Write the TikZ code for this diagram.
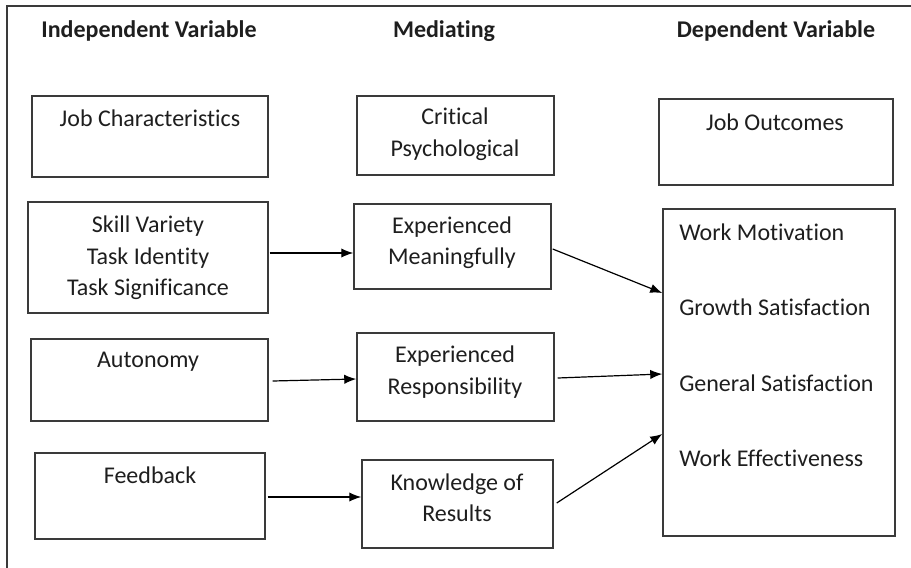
\documentclass[tikz,border=0pt]{standalone}
\usepackage{fontspec}
\setmainfont{Carlito}[Ligatures=NoCommon]
\usetikzlibrary{arrows.meta,fit}
\definecolor{ln}{HTML}{3A3A3A}
\definecolor{tx}{HTML}{1E1E1E}
\begin{document}
\begin{tikzpicture}[x=0.75pt,y=-0.75pt,
  box/.style={draw=ln,line width=1.1pt,inner sep=0pt},
  txt/.style={text=tx,font=\fontsize{18}{23.6}\selectfont,align=center,inner sep=0pt},
  ltxt/.style={text=tx,font=\fontsize{18}{23.6}\selectfont,anchor=west,inner sep=0pt},
  head/.style={text=tx,font=\fontsize{18}{22}\selectfont\bfseries,inner sep=0pt},
  arr/.style={draw=black,line width=0.9pt,-{Latex[length=9pt,width=7pt]}}]
\useasboundingbox (0,0) rectangle (911,568);
% outer frame (top and left only)
\draw[ln,line width=1.1pt] (911,6) -- (7,6) -- (7,568);
% headers
\node[head] (h1) at (149,31) {Independent Variable};
\node[head] (h2) at (444,31) {Mediating};
\node[head] (h3) at (776,31) {Dependent Variable};
% left column
\node[box,fit={(32,96) (268,177)}] (jc) {};
\node[txt] (jct) at (150,118) {Job Characteristics};
\node[box,fit={(28,202) (268,313)}] (sv) {};
\node[txt] (svt) at (148,258) {Skill Variety\\Task Identity\\Task Significance};
\node[box,fit={(31,339) (268,421)}] (au) {};
\node[txt] (aut) at (148,362) {Autonomy};
\node[box,fit={(35,453) (265,539)}] (fb) {};
\node[txt] (fbt) at (150,475) {Feedback};
% middle column
\node[box,fit={(357,96) (554,175)}] (cp) {};
\node[txt] (cpt) at (455,134) {Critical\\Psychological};
\node[box,fit={(354,204) (551,289)}] (em) {};
\node[txt] (emt) at (452,242.5) {Experienced\\Meaningfully};
\node[box,fit={(357,333) (554,421)}] (er) {};
\node[txt] (ert) at (455,372) {Experienced\\Responsibility};
\node[box,fit={(362,460) (553,548)}] (kr) {};
\node[txt] (krt) at (457,497.5) {Knowledge of\\Results};
% right column
\node[box,fit={(659,99) (893,185)}] (jo) {};
\node[txt] (jot) at (775,122) {Job Outcomes};
\node[box,fit={(663,209) (895,536)}] (out) {};
\node[ltxt] (o1) at (679,232) {Work Motivation};
\node[ltxt] (o2) at (679,307) {Growth Satisfaction};
\node[ltxt] (o3) at (679,383) {General Satisfaction};
\node[ltxt] (o4) at (679,458) {Work Effectiveness};
% arrows
\draw[arr] ([shift={(1,-4.5)}]sv.east) -- ([shift={(0,6.5)}]em.west);
\draw[arr] ([shift={(4,1)}]au.east) -- ([shift={(0,2)}]er.west);
\draw[arr] ([shift={(2,1)}]fb.east) -- ([shift={(0,-7)}]kr.west);
\draw[arr] ([shift={(1,2.5)}]em.east) -- ([shift={(0,-79.5)}]out.west);
\draw[arr] ([shift={(3,1)}]er.east) -- ([shift={(0,1.5)}]out.west);
\draw[arr] ([shift={(3,-1)}]kr.east) -- ([shift={(0,61.5)}]out.west);
\end{tikzpicture}
\end{document}
